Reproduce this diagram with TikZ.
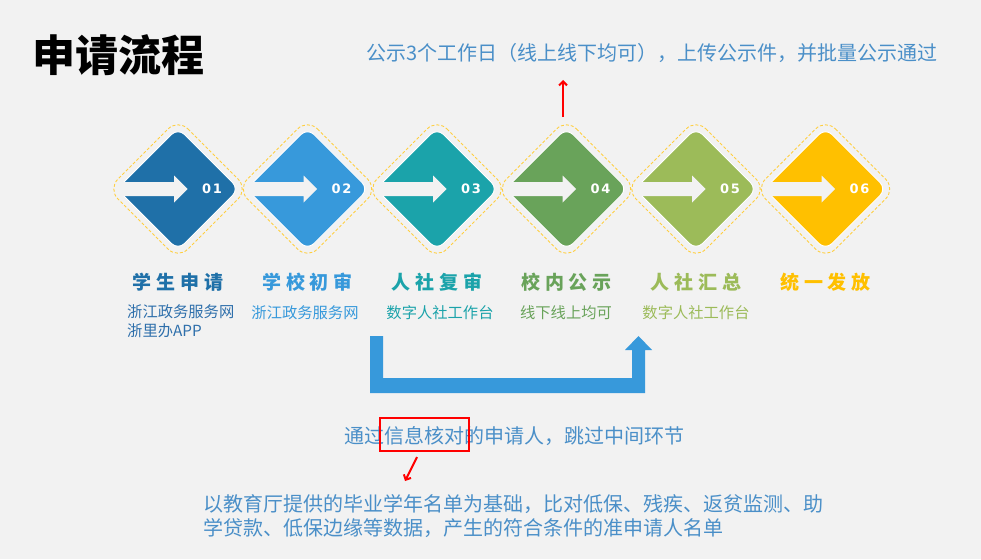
\documentclass[tikz,border=0pt]{standalone}
\usepackage{fontspec}
\setmainfont{Noto Sans CJK SC}
\newfontfamily\numfont{DejaVu Sans}[LetterSpace=14]
\usetikzlibrary{arrows.meta}
\definecolor{bgc}{HTML}{F2F2F2}
\definecolor{c1}{HTML}{1F70A8}
\definecolor{c2}{HTML}{3799DB}
\definecolor{c3}{HTML}{1BA3AA}
\definecolor{c4}{HTML}{69A35A}
\definecolor{c5}{HTML}{9CBB59}
\definecolor{c6}{HTML}{FFC000}
\definecolor{s1}{HTML}{2E6FAB}
\definecolor{dashc}{HTML}{FFCF40}
\definecolor{tblue}{HTML}{4A8FC8}
\definecolor{ublue}{HTML}{3799DB}
\definecolor{redc}{HTML}{FF0000}
\tikzset{
  steptitle/.style={font=\fontsize{19}{22}\selectfont\bfseries\addfontfeature{LetterSpace=26}, inner sep=0pt},
  stepsub/.style={font=\fontsize{15.3}{19}\selectfont, inner sep=0pt},
  stepnum/.style={font=\numfont\bfseries\fontsize{13}{15}\selectfont, text=white, inner sep=0pt},
  bluetext/.style={font=\fontsize{20}{24}\selectfont, text=tblue, inner sep=0pt},
  redarrow/.style={draw=redc, line width=2pt, -{Straight Barb[length=4pt,width=8pt]}},
}
\begin{document}
\begin{tikzpicture}[x=1pt,y=-1pt]
\useasboundingbox (0,0) rectangle (981,559);
\fill[bgc] (0,0) rectangle (981,559);

% title
\node[font=\fontsize{43}{48}\selectfont\bfseries, inner sep=0pt] (title) at (118,55) {申请流程};

% top text and red arrow
\node[bluetext] (toptext) at (652,53) {公示3个工作日（线上线下均可），上传公示件，并批量公示通过};
\coordinate (ra1) at (563,117);
\coordinate (ra2) at (563,80);
\draw[redarrow] (ra1) -- (ra2);

% diamonds
\foreach \i/\cx/\col/\ttl in {1/178/c1/学生申请, 2/307.5/c2/学校初审, 3/437/c3/人社复审, 4/566.5/c4/校内公示, 5/696/c5/人社汇总, 6/825.5/c6/统一发放}{
  \draw[dashc, densely dashed, line width=0.9pt, rounded corners=14] (\cx,119) -- (\cx+70,189) -- (\cx,259) -- (\cx-70,189) -- cycle;
  \filldraw[fill=\col, draw=white, line width=1pt, rounded corners=9] (\cx,128) -- (\cx+61,189) -- (\cx,250) -- (\cx-61,189) -- cycle;
  \fill[bgc] (\cx-58,182) -- (\cx-4,182) -- (\cx-4,175.5) -- (\cx+9.5,189) -- (\cx-4,202.5) -- (\cx-4,196) -- (\cx-58,196) -- cycle;
  \node[stepnum] (n\i) at (\cx+34,189) {0\i};
  \node[steptitle, text=\col] (t\i) at (\cx,282) {\ttl};
}

% subtitles
\node[stepsub, text=s1, anchor=north west, align=left] (sub1) at (127,304) {浙江政务服务网\\浙里办APP};
\node[stepsub, text=c2] (sub2) at (305,313) {浙江政务服务网};
\node[stepsub, text=c3] (sub3) at (440,313) {数字人社工作台};
\node[stepsub, text=c4] (sub4) at (566,313) {线下线上均可};
\node[stepsub, text=c5] (sub5) at (696,313) {数字人社工作台};

% U-shaped block arrow
\fill[ublue] (370,336) -- (383,336) -- (383,378) -- (632,378) -- (632,350) -- (625,350) -- (638.5,336) -- (652,350) -- (645,350) -- (645,393) -- (370,393) -- cycle;

% middle text
\node[bluetext, anchor=west] (midtext) at (344,436) {通过信息核对的申请人，跳过中间环节};
\node[draw=redc, line width=1.8pt, minimum width=89pt, minimum height=33pt, inner sep=0pt] (box) at (424.5,434.5) {};
\coordinate (rb1) at (417,457);
\coordinate (rb2) at (405,481);
\draw[redarrow] (rb1) -- (rb2);

% bottom text
\node[bluetext, anchor=north west, align=left] (bottext) at (203,494) {以教育厅提供的毕业学年名单为基础，比对低保、残疾、返贫监测、助\\学贷款、低保边缘等数据，产生的符合条件的准申请人名单};
\end{tikzpicture}
\end{document}
